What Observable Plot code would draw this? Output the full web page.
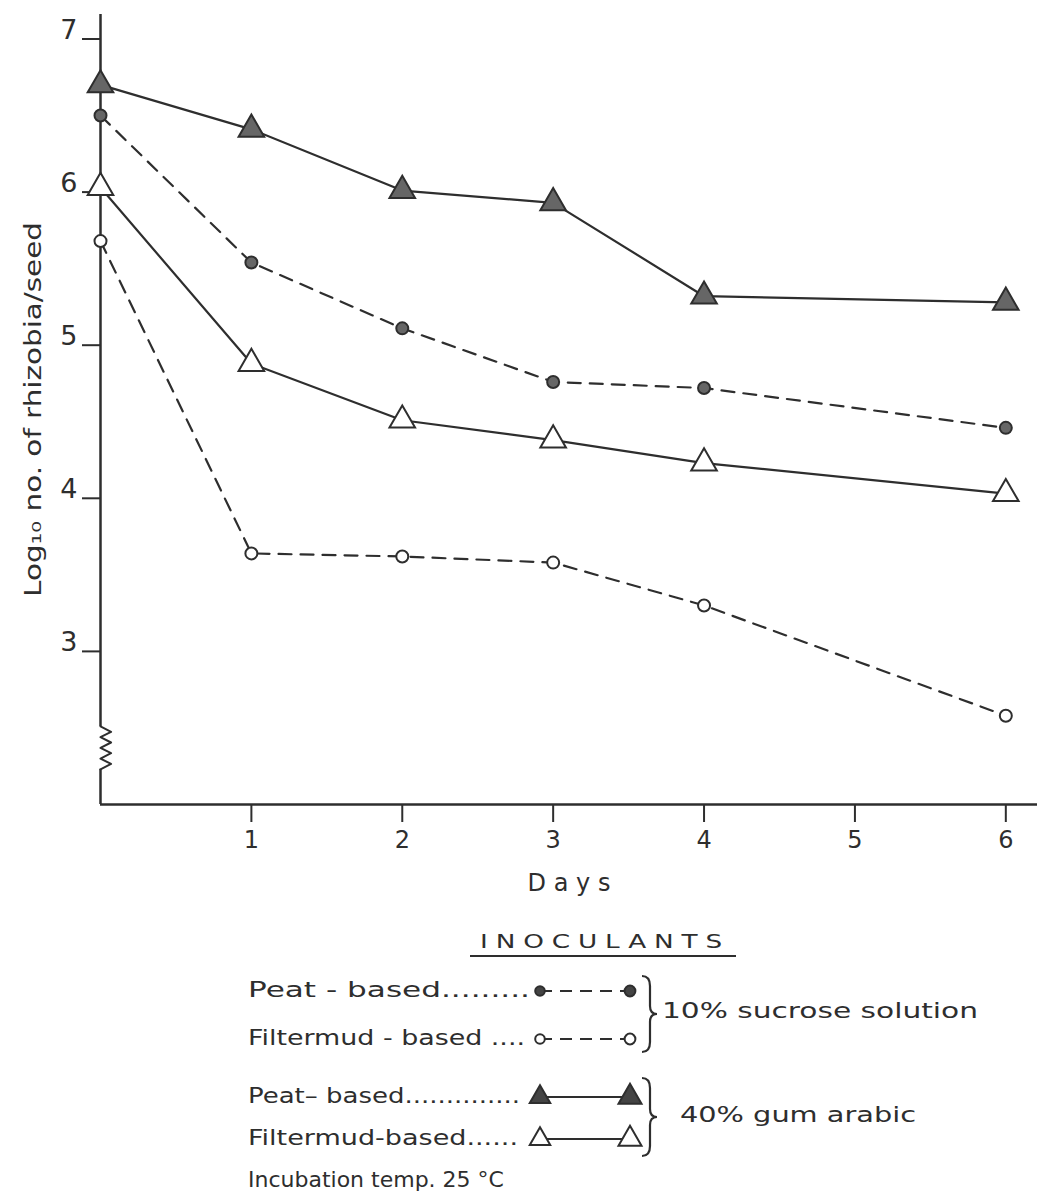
<!DOCTYPE html>
<html>
<head>
<meta charset="utf-8">
<script src="https://cdn.jsdelivr.net/npm/d3@7"></script>
<script src="https://cdn.jsdelivr.net/npm/@observablehq/plot@0.6"></script>
<style>
  body { margin: 0; background: #fff; }
  #wrap { position: relative; width: 1037px; height: 1196px; background: #fff; font-family: "DejaVu Sans", sans-serif; color: #2a2a2a; }
  #legend { position: absolute; left: 0; top: 0; }
</style>
</head>
<body>
<div id="wrap"><div id="chart"></div><svg id="legend" width="1037" height="1196"></svg></div>
<script>
// ---- data ----
const days = [0, 1, 2, 3, 4, 6];
const peatSucrose      = [6.50, 5.54, 5.11, 4.76, 4.72, 4.46];
const filtermudSucrose = [5.68, 3.64, 3.62, 3.58, 3.30, 2.58];
const peatGum          = [6.70, 6.41, 6.01, 5.93, 5.32, 5.28];
const filtermudGum     = [6.03, 4.88, 4.51, 4.38, 4.23, 4.03];
const seriesNames = ["Peat sucrose", "Filtermud sucrose", "Peat gum", "Filtermud gum"];
const seriesValues = [peatSucrose, filtermudSucrose, peatGum, filtermudGum];
const xTicks = [1, 2, 3, 4, 5, 6];
const yTicks = [3, 4, 5, 6, 7];
const xDomain = [0, 6.21];
const yDomain = [2, 7.16];
const axisBreak = [2.23, 2.51];

// ---- styles ----
const ink = "#2e2e2e";
const style = {
  "Peat sucrose":      {dash: "13,9", symbol: "circle",   fill: "#666", r: 6},
  "Filtermud sucrose": {dash: "13,9", symbol: "circle",   fill: "#fff", r: 6},
  "Peat gum":          {dash: null,   symbol: "triangle", fill: "#666", r: 9.5},
  "Filtermud gum":     {dash: null,   symbol: "triangle", fill: "#fff", r: 9.5}
};

const rows = seriesNames.flatMap((name, i) =>
  days.map((d, j) => ({series: name, day: d, value: seriesValues[i][j]})));

// zigzag break on the y-axis, generated from the break bounds
const zig = d3.range(0, 9).map(k => ({
  x: k === 0 || k === 8 ? 0 : (k % 2 ? 0.07 : 0.0),
  y: axisBreak[0] + (axisBreak[1] - axisBreak[0]) * k / 8
}));

const marks = [
  Plot.ruleY([yDomain[0]], {x1: xDomain[0], x2: xDomain[1], stroke: ink, strokeWidth: 2.5}),
  Plot.ruleX([{a: yDomain[0], b: axisBreak[0]}, {a: axisBreak[1], b: yDomain[1]}],
             {x: () => 0, y1: "a", y2: "b", stroke: ink, strokeWidth: 2.5}),
  Plot.line(zig, {x: "x", y: "y", stroke: ink, strokeWidth: 2}),
  Plot.axisX({ticks: xTicks, tickFormat: "d", tickSize: 18, tickPadding: 8, fontSize: 24, stroke: ink, strokeWidth: 2,
              label: "D a y s", labelAnchor: "center", labelOffset: 86, labelArrow: "none"}),
  Plot.axisY({ticks: yTicks, tickFormat: () => "", tickSize: 18, stroke: ink, strokeWidth: 2, label: null}),
  Plot.axisY({ticks: yTicks, tickFormat: "d", tickSize: 0, tickPadding: 23, fontSize: 27, dy: -9, label: null}),
  Plot.axisY({ticks: [], tickSize: 0, fontSize: 23,
              label: "Log\u2081\u2080 no. of rhizobia/seed", labelAnchor: "center", labelOffset: 76, labelArrow: "none"})
];
for (const name of seriesNames) {
  const s = style[name];
  const d = rows.filter(r => r.series === name);
  marks.push(Plot.line(d, {x: "day", y: "value", stroke: ink, strokeWidth: 2.2, strokeDasharray: s.dash}));
  marks.push(Plot.dot(d, {x: "day", y: "value", symbol: s.symbol, r: s.r, fill: s.fill, stroke: ink, strokeWidth: 2}));
}

const plot = Plot.plot({
  width: 1037, height: 900,
  marginLeft: 100, marginRight: 0, marginTop: 14, marginBottom: 96,
  x: {domain: xDomain, axis: null},
  y: {domain: yDomain, axis: null},
  style: {fontFamily: "DejaVu Sans, sans-serif", fontSize: "22px", color: ink, background: "#fff", overflow: "visible"},
  marks
});
document.getElementById("chart").appendChild(plot);
// widen the hand-lettered axis title to the reference's extent
d3.select(plot).selectAll('[aria-label="y-axis label"] text')
  .attr("textLength", 375).attr("lengthAdjust", "spacingAndGlyphs");

// ---- legend (below the plot) ----
const lg = d3.select("#legend");
const tx = (x, y, t, opts = {}) => {
  const el = lg.append("text").attr("x", x).attr("y", y)
    .attr("font-size", opts.size || 21).attr("fill", ink).attr("dominant-baseline", "middle")
    .attr("text-anchor", opts.anchor || "start").attr("letter-spacing", opts.ls || 0).text(t);
  if (opts.len) el.attr("textLength", opts.len).attr("lengthAdjust", opts.adjust || "spacingAndGlyphs");
  return el;
};

tx(480, 942, "INOCULANTS", {size: 20, ls: 6, len: 250});
lg.append("line").attr("x1", 470).attr("x2", 736).attr("y1", 956).attr("y2", 956).attr("stroke", ink).attr("stroke-width", 2);

const legendRows = [
  {label: "Peat - based.........", name: "Peat sucrose", y: 991, len: 282},
  {label: "Filtermud - based ....", name: "Filtermud sucrose", y: 1039, len: 277},
  {label: "Peat\u2013 based..............", name: "Peat gum", y: 1097, len: 272},
  {label: "Filtermud-based......", name: "Filtermud gum", y: 1139, len: 270}
];
const sym = {circle: d3.symbolCircle, triangle: d3.symbolTriangle};
for (const r of legendRows) {
  const s = style[r.name];
  tx(248, r.y, r.label, {size: 22, len: r.len});
  lg.append("line").attr("x1", 540).attr("x2", 630).attr("y1", r.y).attr("y2", r.y)
    .attr("stroke", ink).attr("stroke-width", 2).attr("stroke-dasharray", s.dash ? "12,8" : null);
  for (const [x, rr] of [[540, s.r * 0.8], [630, s.r * 0.9]]) {
    lg.append("path").attr("transform", `translate(${x},${r.y})`)
      .attr("d", d3.symbol(sym[s.symbol], Math.PI * rr * rr)())
      .attr("fill", s.fill === "#fff" ? "#fff" : "#444").attr("stroke", ink).attr("stroke-width", 2);
  }
}
const brace = (x, y1, y2) => {
  const m = (y1 + y2) / 2;
  lg.append("path").attr("d",
    `M${x},${y1} Q${x + 8},${y1} ${x + 8},${y1 + 10} L${x + 8},${m - 8} Q${x + 8},${m} ${x + 15},${m} ` +
    `Q${x + 8},${m} ${x + 8},${m + 8} L${x + 8},${y2 - 10} Q${x + 8},${y2} ${x},${y2}`)
    .attr("fill", "none").attr("stroke", ink).attr("stroke-width", 2.2);
};
brace(642, 976, 1052);
brace(642, 1078, 1156);
tx(662, 1012, "10% sucrose solution", {size: 22, len: 316});
tx(680, 1116, "40% gum arabic", {size: 22, len: 236});
tx(248, 1181, "Incubation temp. 25 \u00B0C", {size: 22});
</script>
</body>
</html>
